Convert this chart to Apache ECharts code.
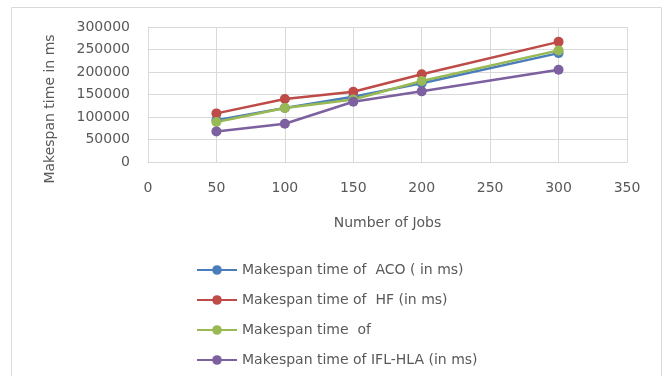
<!DOCTYPE html>
<html><head><meta charset="utf-8">
<script src="https://cdn.jsdelivr.net/npm/echarts@6/dist/echarts.min.js"></script>
<style>html,body{margin:0;padding:0;background:#fff}#c{width:664px;height:376px}</style>
</head><body><div id="c"></div>
<script>
var jobs = [50, 100, 150, 200, 300];
var aco = [93000, 120000, 145000, 175000, 242000];
var hf = [108000, 140000, 156000, 195000, 267000];
var green = [89000, 120000, 139000, 180000, 248000];
var ifl = [68000, 85000, 134000, 157000, 205000];
var names = ['Makespan time of  ACO ( in ms)', 'Makespan time of  HF (in ms)', 'Makespan time  of', 'Makespan time of IFL-HLA (in ms)'];
var colors = ['#4a7ebb', '#be4b48', '#98b954', '#7d60a0'];
var font = 'DejaVu Sans';
function pairs(v){ return jobs.map(function(x,i){return [x, v[i]];}); }
var all = [aco, hf, green, ifl];
var chart = echarts.init(document.getElementById('c'));
chart.setOption({
  animation: false,
  textStyle: {fontFamily: font},
  grid: {left: 148, right: 37, top: 27, bottom: 214, containLabel: false},
  xAxis: {type: 'value', min: 0, max: 350, interval: 50,
    name: 'Number of Jobs', nameLocation: 'middle', nameGap: 54,
    nameTextStyle: {fontSize: 14, color: '#595959', fontFamily: font},
    axisLine: {show: true, lineStyle: {color: '#d9d9d9'}},
    axisTick: {show: false},
    axisLabel: {fontSize: 14, color: '#595959', margin: 19, fontFamily: font},
    splitLine: {show: true, lineStyle: {color: '#d9d9d9'}}},
  yAxis: {type: 'value', min: 0, max: 300000, interval: 50000,
    axisLine: {show: true, lineStyle: {color: '#d9d9d9'}},
    axisTick: {show: false},
    axisLabel: {fontSize: 14, color: '#595959', margin: 18, fontFamily: font,
      formatter: function(v){ return String(v); }},
    splitLine: {show: true, lineStyle: {color: '#d9d9d9'}}},
  legend: {orient: 'vertical', left: 191, top: 258, height: 120, itemWidth: 40, itemHeight: 12, itemGap: 16,
    textStyle: {fontSize: 14, color: '#595959', fontFamily: font},
    data: names},
  graphic: [
    {type: 'rect', shape: {x: 11.5, y: 7.5, width: 650, height: 380}, style: {fill: 'none', stroke: '#d9d9d9', lineWidth: 1}, silent: true},
    {type: 'text', x: 50, y: 109, rotation: Math.PI/2,
      style: {text: 'Makespan time in ms', fontSize: 14, fill: '#595959', fontFamily: font, textAlign: 'center', textVerticalAlign: 'middle'}}
  ],
  series: all.map(function(v, i){
    return {type: 'line', name: names[i], data: pairs(v), symbol: 'circle', symbolSize: 10,
      lineStyle: {width: 2.5, color: colors[i]}, itemStyle: {color: colors[i]}};
  })
});
</script></body></html>
